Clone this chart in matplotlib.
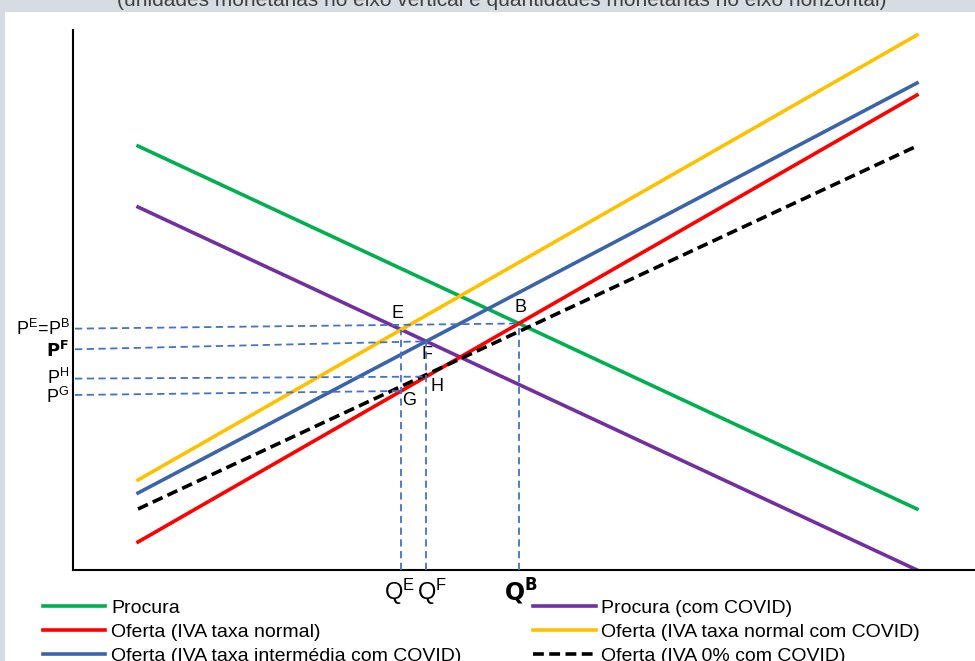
import matplotlib.pyplot as plt
import matplotlib.patches as mpatches
import numpy as np

plt.rcParams['font.family'] = ['Liberation Sans', 'DejaVu Sans']

# line endpoints (quantity, price)
q_ends = [65, 844]
procura = [424, 61]
procura_covid = [363, 0]
oferta_normal = [28, 475]
oferta_normal_covid = [90, 535]
oferta_intermedia = [77, 487]
oferta_zero = [61, 424]


def intersect(a, b):
    # two lines defined on q_ends
    sa = (a[1] - a[0]) / (q_ends[1] - q_ends[0])
    sb = (b[1] - b[0]) / (q_ends[1] - q_ends[0])
    d = (b[0] - a[0]) / (sa - sb)
    return q_ends[0] + d, a[0] + sa * d


def value_at(a, q):
    sa = (a[1] - a[0]) / (q_ends[1] - q_ends[0])
    return a[0] + sa * (q - q_ends[0])


fig = plt.figure(figsize=(9.75, 6.61), dpi=100)
fig.patch.set_facecolor('#D7DCE3')
fig.patches.append(mpatches.Rectangle((5 / 975, 0), 1, 1 - 12 / 661, transform=fig.transFigure,
                                      facecolor='white', edgecolor='none', zorder=-5))
fig.text(0.515, 1.0, '(unidades monetárias no eixo vertical e quantidades monetárias no eixo horizontal)',
         ha='center', va='center', fontsize=15, color='#404040')

ax = fig.add_axes([73 / 975, 91 / 661, 902 / 975, 540 / 661])
ax.set_facecolor('none')
ax.set_zorder(2)
ax.set_xlim(0, 902)
ax.set_ylim(0, 540)
ax.spines['top'].set_visible(False)
ax.spines['right'].set_visible(False)
ax.spines['left'].set_linewidth(1.5)
ax.spines['bottom'].set_linewidth(1.5)
ax.set_xticks([])
ax.set_yticks([])

lw = 2.6
l1, = ax.plot(q_ends, procura, color='#00B050', lw=lw, label='Procura')
l2, = ax.plot(q_ends, procura_covid, color='#7030A0', lw=lw, label='Procura (com COVID)')
l3, = ax.plot(q_ends, oferta_normal, color='#FF0000', lw=lw, label='Oferta (IVA taxa normal)', zorder=3)
l4, = ax.plot(q_ends, oferta_normal_covid, color='#FFC000', lw=lw, label='Oferta (IVA taxa normal com COVID)')
l5, = ax.plot(q_ends, oferta_intermedia, color='#3B64A8', lw=lw, label='Oferta (IVA taxa intermédia com COVID)')
l6, = ax.plot(q_ends, oferta_zero, color='black', lw=lw, ls=(0, (3, 1.5)), label='Oferta (IVA 0% com COVID)', zorder=4)

E = intersect(procura_covid, oferta_normal_covid)
B = intersect(procura, oferta_normal)
F = intersect(procura_covid, oferta_intermedia)
H = (F[0], value_at(oferta_normal, F[0]))
G = (E[0], value_at(oferta_normal, E[0]))

guide = dict(color='#4472C4', lw=1.3, ls=(0, (4, 2.5)), zorder=5)
# price guides: left end level, point reached
ax.plot([2, B[0]], [E[1] + 1, B[1]], **guide)
ax.plot([2, F[0]], [F[1] - 8, F[1]], **guide)
ax.plot([2, H[0]], [H[1] - 2, H[1]], **guide)
ax.plot([2, G[0]], [G[1] - 4, G[1]], **guide)
for pt in [E, F, B]:
    ax.plot([pt[0], pt[0]], [0, pt[1]], **guide)

lab = dict(fontsize=13, color='black')
ax.text(E[0] - 4, E[1] + 8, 'E', ha='center', va='bottom', **lab)
ax.text(B[0] + 2, B[1] + 7, 'B', ha='center', va='bottom', **lab)
ax.text(F[0] + 1, F[1] - 5, 'F', ha='center', va='top', **lab)
ax.text(H[0] + 4, H[1] - 1, 'H', ha='left', va='top', **lab)
ax.text(G[0] + 1, G[1] - 1, 'G', ha='left', va='top', **lab)

plab = dict(fontsize=13, ha='right', va='center', clip_on=False)
ax.text(-2, E[1] + 1, r'$\mathregular{P^E\!=\!P^B}$', **plab)
ax.text(-4, F[1] - 10, r'$\mathbf{P^F}$', **plab)
ax.text(-4, H[1] - 1, r'$\mathregular{P^H}$', **plab)
ax.text(-4, G[1] - 6, r'$\mathregular{P^G}$', **plab)

qlab = dict(fontsize=17, ha='center', va='top', clip_on=False)
ax.text(E[0] - 2, -7, r'$\mathregular{Q^E}$', **qlab)
ax.text(F[0] + 6, -7, r'$\mathregular{Q^F}$', **qlab)
ax.text(B[0] + 2, -7, r'$\mathbf{Q^B}$', **qlab)

fig.legend(handles=[l1, l3, l5, l2, l4, l6], ncol=2, loc='upper left',
           bbox_to_anchor=(43 / 975, 1 - 599 / 661), frameon=False, fontsize=14,
           handlelength=3.2, handletextpad=0.3, labelspacing=0.33, columnspacing=3.7,
           borderaxespad=0, borderpad=0)

fig.savefig('out.png', dpi=100)
